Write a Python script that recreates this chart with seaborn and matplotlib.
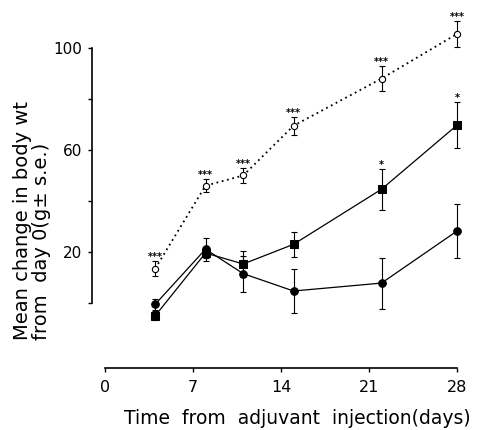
import matplotlib
matplotlib.use("Agg")
import numpy as np
import pandas as pd
import seaborn as sns
import matplotlib.pyplot as plt

# days after adjuvant injection
days = [4, 8, 11, 15, 22, 28]

# open circles, dotted line
open_mean = [13.5, 46, 50, 69.5, 88, 105.5]
open_se = [3, 2.5, 2.8, 3.5, 5, 5]
open_stars = ["***", "***", "***", "***", "***", "***"]

# filled squares
square_mean = [-5, 19.6, 15.3, 23, 44.6, 69.7]
square_se = [1.8, 2, 5, 5, 8, 9]
square_stars = ["", "", "", "", "*", "*"]

# filled circles
circle_mean = [-0.5, 21.1, 11.5, 4.7, 7.8, 28.2]
circle_se = [2.2, 4.5, 7, 8.5, 10, 10.6]

xticks = [0, 7, 14, 21, 28]
yticks = [0, 20, 40, 60, 80, 100]
ytick_labels = ["", "20", "", "60", "", "100"]

sns.set_theme(style="ticks")
plt.rcParams['font.family'] = ['DejaVu Sans']
plt.rcParams['text.color'] = 'black'
plt.rcParams['xtick.color'] = 'black'
plt.rcParams['ytick.color'] = 'black'
plt.rcParams['axes.edgecolor'] = 'black'

fig = plt.figure(figsize=(4.84, 4.30), dpi=100)
ax = fig.add_axes([92 / 484, 1 - 368 / 430, 377.5 / 484, 350.6 / 430])

groups = [
    ("open", open_mean, open_se, open_stars,
     dict(marker="o", markersize=4.5, markerfacecolor="white", markeredgecolor="black",
          markeredgewidth=0.8, linestyle=(0, (1, 2)), linewidth=1.3)),
    ("square", square_mean, square_se, square_stars,
     dict(marker="s", markersize=5.5, markerfacecolor="black", markeredgecolor="black",
          linestyle="-", linewidth=0.9)),
    ("circle", circle_mean, circle_se, [""] * len(days),
     dict(marker="o", markersize=5.5, markerfacecolor="black", markeredgecolor="black",
          linestyle="-", linewidth=0.9)),
]

for name, mean, se, stars, style in groups:
    d = pd.DataFrame({"day": days, "mean": mean, "se": se})
    ax.errorbar(d["day"], d["mean"], yerr=d["se"], fmt="none", ecolor="black",
                elinewidth=0.8, capsize=2, capthick=0.8, zorder=2)
    sns.lineplot(data=d, x="day", y="mean", color="black", errorbar=None, ax=ax,
                 zorder=3, **style)
    for x, m, s, st in zip(days, mean, se, stars):
        if st:
            ax.annotate(st, (x, m + s), xytext=(0, 3), textcoords="offset points",
                        ha="center", va="center", fontsize=7, fontweight="bold")

ax.set_xlim(-1.03, 29)
ax.set_ylim(-25.5, 112)
ax.set_xticks(xticks)
ax.set_yticks(yticks)
ax.set_yticklabels(ytick_labels)
ax.tick_params(axis="x", length=3, width=1, pad=6, labelsize=11.5, colors="black")
ax.tick_params(axis="y", length=3, width=1, pad=4, labelsize=11, colors="black")
sns.despine(ax=ax)
ax.spines["left"].set_bounds(0, 100)
ax.spines["bottom"].set_bounds(0, 28)
ax.spines["left"].set_linewidth(1.2)
ax.spines["bottom"].set_linewidth(1.2)
ax.set_xlabel("")
ax.set_ylabel("")

fig.text(297.5 / 484, 1 - 418 / 430, "Time  from  adjuvant  injection(days)",
         ha="center", va="center", fontsize=13.5, color="black")
fig.text(32 / 484, 1 - 340 / 430, "Mean change in body wt\nfrom  day 0(g\u00b1 s.e.)",
         rotation=90, ha="center", va="bottom", multialignment="left",
         fontsize=14, linespacing=0.95, color="black")

fig.savefig("out.png", dpi=100)
